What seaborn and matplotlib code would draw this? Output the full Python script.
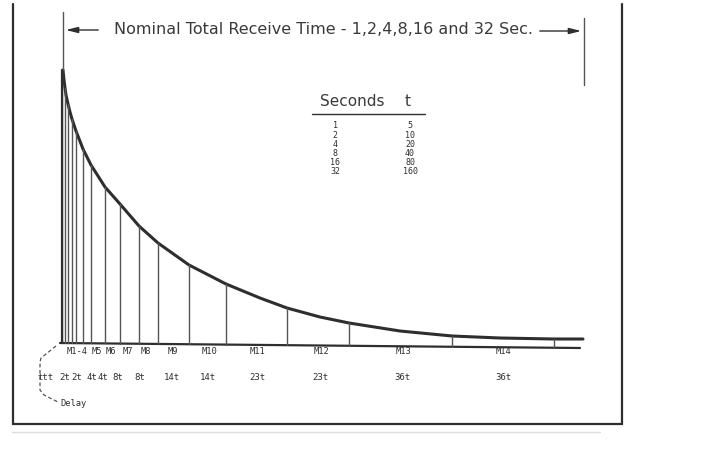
"""
Diagrama de tiempos de recepción: curva de decaimiento con segmentos M1..M14.
Coordenadas en unidades del dibujo (0..710 x 0..450, eje Y invertido).
"""

import matplotlib
matplotlib.use('Agg')
import matplotlib.pyplot as plt
import seaborn as sns
import pandas as pd

# --- datos ---
curva_x = [63, 64, 65, 66, 68, 70, 72, 76, 83, 91, 105, 120, 139, 158, 189, 226, 260,
           287, 320, 349, 400, 452, 500, 554, 583]
curva_y = [70, 80, 88, 95, 104, 112, 119, 131, 149, 165, 187, 204, 226, 243, 265, 284,
           298, 308, 317, 323, 331, 336, 338, 339, 339]

limites_x = [62, 65, 68, 72, 76, 83, 91, 105, 120, 139, 158, 189, 226, 287, 349, 452, 554]
limites_top = [70, 88, 104, 119, 131, 149, 165, 187, 204, 226, 243, 265, 284, 308, 323, 336, 339]

base_x = [60, 580]
base_y = [343, 348]

mensajes = ['M1-4', 'M5', 'M6', 'M7', 'M8', 'M9', 'M10', 'M11', 'M12', 'M13', 'M14']
mensajes_x = [77, 97, 111, 128, 146, 173, 209, 258, 321, 403, 503]

duraciones = ['ttt', '2t', '2t', '4t', '4t', '8t', '8t', '14t', '14t', '23t', '23t', '36t', '36t']
duraciones_x = [46, 65, 77, 92, 103, 118, 140, 172, 208, 257, 320, 402, 503]

tabla_segundos = ['1', '2', '4', '8', '16', '32']
tabla_t = ['5', '10', '20', '40', '80', '160']

titulo = 'Nominal Total Receive Time - 1,2,4,8,16 and 32 Sec.'

TINTA = '#2e2e2e'
TINTA_FINA = '#555555'

sns.set_theme(style='white')
plt.rcParams['font.family'] = ['DejaVu Sans']

fig = plt.figure(figsize=(7.1, 4.5), dpi=100)
ax = fig.add_axes([0, 0, 1, 1])
ax.set_xlim(0, 710)
ax.set_ylim(450, 0)
ax.axis('off')


def base_en(x):
    # línea base ligeramente inclinada (escaneo)
    return base_y[0] + (base_y[1] - base_y[0]) * (x - base_x[0]) / (base_x[1] - base_x[0])


# marco
ax.plot([13, 13, 622, 622], [4, 424, 424, 4], color=TINTA, lw=1.6, solid_joinstyle='miter')
ax.plot([12, 600], [432, 432], color='#dddddd', lw=1.0)

# curva
df_curva = pd.DataFrame({'x': curva_x, 'y': curva_y})
sns.lineplot(data=df_curva, x='x', y='y', ax=ax, sort=False, color=TINTA, lw=2.2,
             estimator=None)

# línea base
ax.plot(base_x, base_y, color=TINTA, lw=1.6)

# divisiones verticales
for xv, yt in zip(limites_x, limites_top):
    ax.plot([xv, xv], [base_en(xv), yt], color=TINTA_FINA, lw=1.0)
ax.plot([62, 62], [base_en(62), 70], color=TINTA, lw=1.6)

# cotas superiores
ax.plot([63, 63], [12, 70], color=TINTA_FINA, lw=1.0)
ax.plot([584, 584], [18, 85], color=TINTA_FINA, lw=1.0)
ax.annotate('', xy=(63, 30), xytext=(101, 30),
            arrowprops=dict(arrowstyle='-|>,head_length=0.6,head_width=0.15', color=TINTA, lw=1.0))
ax.annotate('', xy=(584, 31), xytext=(537, 31),
            arrowprops=dict(arrowstyle='-|>,head_length=0.6,head_width=0.15', color=TINTA, lw=1.0))
ax.text(323, 30, titulo, ha='center', va='center', fontsize=11.5, color='#3a3a3a')

# tabla
ax.text(352, 102, 'Seconds', ha='center', va='center', fontsize=11, color='#3a3a3a')
ax.text(408, 102, 't', ha='center', va='center', fontsize=11, color='#3a3a3a')
ax.plot([312, 425], [114, 114], color=TINTA, lw=1.0)
for i, (s, t) in enumerate(zip(tabla_segundos, tabla_t)):
    y = 126 + i * 9.2
    ax.text(335, y, s, ha='center', va='center', fontsize=6, color=TINTA, family='DejaVu Sans Mono')
    ax.text(410, y, t, ha='center', va='center', fontsize=6, color=TINTA, family='DejaVu Sans Mono')

# etiquetas de mensajes y duraciones
for m, xm in zip(mensajes, mensajes_x):
    ax.text(xm, 352, m, ha='center', va='center', fontsize=6.3, color=TINTA, family='DejaVu Sans Mono')
for d, xd in zip(duraciones, duraciones_x):
    ax.text(xd, 377, d, ha='center', va='center', fontsize=6.5, color=TINTA, family='DejaVu Sans Mono')

# llave de "Delay"
ax.plot([56, 41, 40, 40, 44, 58], [346, 358, 362, 390, 395, 402], color=TINTA_FINA, lw=0.9,
        linestyle=(0, (3, 2)))
ax.text(60, 404, 'Delay', ha='left', va='center', fontsize=6.3, color=TINTA, family='DejaVu Sans Mono')

fig.savefig('out.png', dpi=100, facecolor='white')
plt.close(fig)
